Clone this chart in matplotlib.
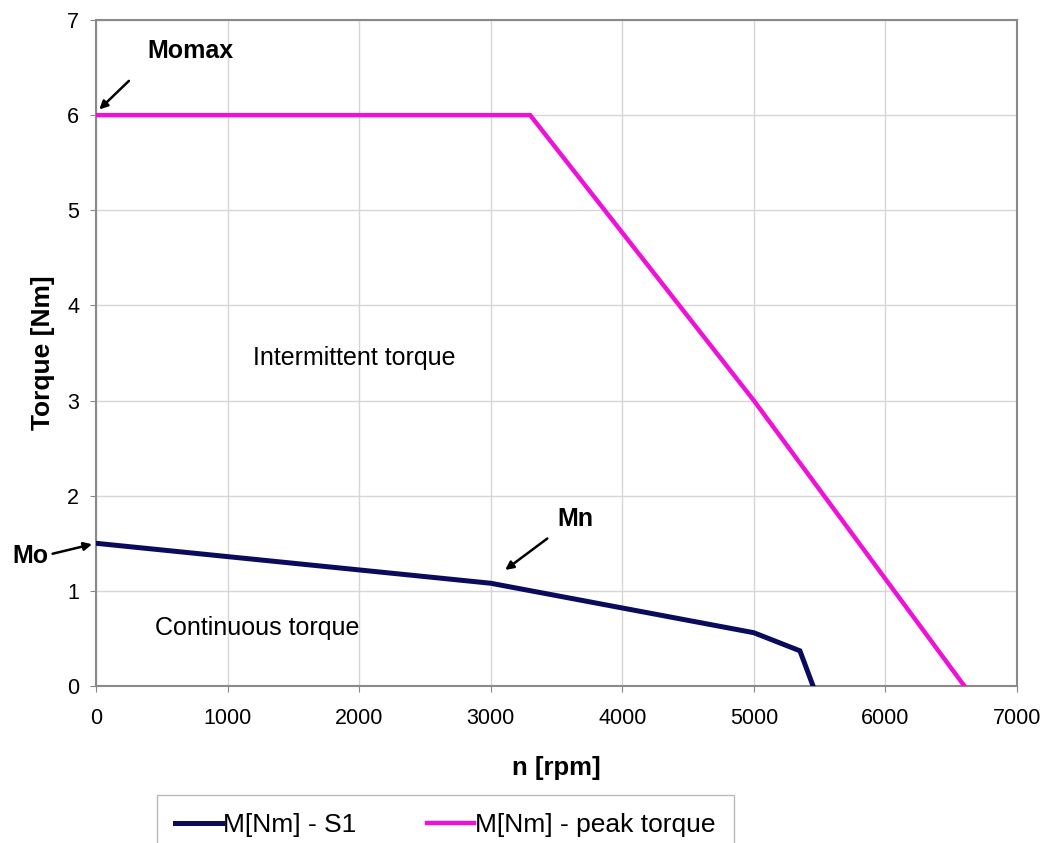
import matplotlib
matplotlib.use("Agg")
import matplotlib.pyplot as plt

plt.rcParams['font.family'] = ['Liberation Sans', 'DejaVu Sans']

# Data
s1_rpm = [0, 3000, 5000, 5350, 5450]
s1_torque = [1.5, 1.08, 0.56, 0.37, 0.0]
peak_rpm = [0, 3300, 5000, 6600]
peak_torque = [6.0, 6.0, 3.0, 0.0]
x_ticks = [0, 1000, 2000, 3000, 4000, 5000, 6000, 7000]
y_ticks = [0, 1, 2, 3, 4, 5, 6, 7]

fig = plt.figure(figsize=(10.41, 8.43), dpi=100)
ax = fig.add_axes([96/1041, 1-686/843, (1017-96)/1041, (686-20)/843])

l1, = ax.plot(s1_rpm, s1_torque, color='#0b0b5e', lw=3.6, solid_joinstyle='miter', label='M[Nm] - S1', zorder=3)
l2, = ax.plot(peak_rpm, peak_torque, color='#f011d8', lw=3.2, solid_joinstyle='miter', label='M[Nm] - peak torque', zorder=3)

ax.set_xlim(0, 7000)
ax.set_ylim(0, 7)
ax.set_xticks(x_ticks)
ax.set_yticks(y_ticks)
ax.tick_params(labelsize=15.5, length=4, color='#888888')
ax.tick_params(axis='x', pad=12)
ax.tick_params(axis='y', pad=8)
ax.grid(True, color='#d6d6d6', lw=1)
ax.set_axisbelow(True)
for s in ax.spines.values():
    s.set_color('#8a8a8a')
    s.set_linewidth(1.5)

ax.set_xlabel('n [rpm]', fontsize=18.5, fontweight='bold', labelpad=19)
ax.set_ylabel('Torque [Nm]', fontsize=19, fontweight='bold', labelpad=9)

ax.text(1190, 3.45, 'Intermittent torque', fontsize=18, va='center', ha='left')
ax.text(450, 0.61, 'Continuous torque', fontsize=18, va='center', ha='left')

arrowprops = dict(arrowstyle='-|>', color='black', lw=1.8, mutation_scale=12, shrinkA=0, shrinkB=0)
ax.annotate('', xy=(25, 6.06), xytext=(250, 6.36), arrowprops=arrowprops, annotation_clip=False)
ax.text(720, 6.67, 'Momax', fontsize=18, fontweight='bold', ha='center', va='center')
ax.annotate('', xy=(3110, 1.22), xytext=(3430, 1.55), arrowprops=arrowprops, annotation_clip=False)
ax.text(3640, 1.75, 'Mn', fontsize=18, fontweight='bold', ha='center', va='center')
ax.annotate('', xy=(-30, 1.49), xytext=(-330, 1.39), arrowprops=arrowprops, annotation_clip=False)
ax.text(-500, 1.37, 'Mo', fontsize=18, fontweight='bold', ha='center', va='center', clip_on=False)

leg = fig.legend(handles=[l1, l2], loc='upper left', bbox_to_anchor=(157/1041, 1-795/843),
                 ncol=2, fontsize=19, frameon=True, fancybox=False, edgecolor='#aaaaaa',
                 handlelength=1.75, handletextpad=0.05, columnspacing=2.7, borderpad=0.7,
                 borderaxespad=0)
leg.get_frame().set_linewidth(1.0)

fig.savefig('out.png', dpi=100)
